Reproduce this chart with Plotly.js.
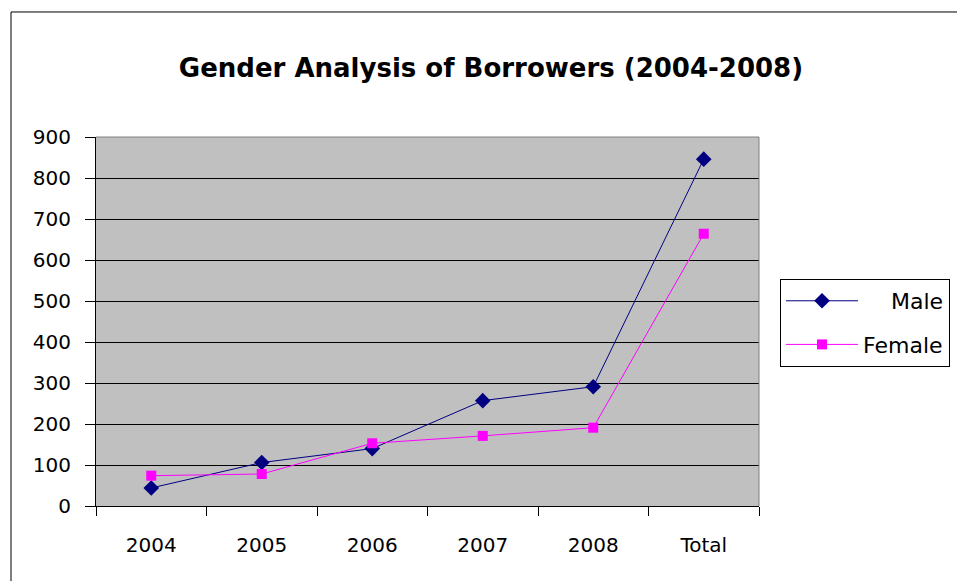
<!DOCTYPE html>
<html>
<head>
<meta charset="utf-8">
<script src="https://cdn.plot.ly/plotly-3.0.1.min.js"></script>
<style>html,body{margin:0;padding:0;background:#fff;} #chart{width:957px;height:581px;}</style>
</head>
<body>
<div id="chart"></div>
<script>
const categories = ["2004", "2005", "2006", "2007", "2008", "Total"];
const maleValues = [44, 106, 140, 257, 291, 846];
const femaleValues = [74, 78, 153, 171, 191, 664];
const yTickValues = [0, 100, 200, 300, 400, 500, 600, 700, 800, 900];
const seriesNames = ["Male", "Female"];

const FONT = "DejaVu Sans, Liberation Sans, Arial, sans-serif";
const NB = "\u00a0";

const traces = [
  {
    x: categories, y: maleValues, name: NB.repeat(4) + seriesNames[0], type: "scatter", mode: "lines+markers",
    legendgroup: "a",
    line: {color: "#000080", width: 1},
    marker: {symbol: "diamond", size: 12, color: "#000080"}
  },
  {
    x: categories, y: femaleValues, name: seriesNames[1], type: "scatter", mode: "lines+markers",
    legendgroup: "b",
    line: {color: "#FF00FF", width: 1},
    marker: {symbol: "square", size: 10, color: "#FF00FF"}
  }
];

const layout = {
  width: 957, height: 581,
  margin: {l: 96, r: 198, t: 137, b: 75, autoexpand: false},
  paper_bgcolor: "#ffffff",
  plot_bgcolor: "#C0C0C0",
  font: {family: FONT, color: "#000000", size: 20},
  title: {
    text: "<b>Gender Analysis of Borrowers (2004-2008)</b>",
    font: {family: FONT, size: 26, color: "#000"},
    x: 0.513, xref: "container", xanchor: "center",
    y: 0.883, yref: "container", yanchor: "middle"
  },
  xaxis: {
    type: "category",
    range: [-0.5, 5.5],
    autorange: false,
    tickson: "boundaries",
    ticks: "outside", ticklen: 9, tickcolor: "#000", tickwidth: 1,
    showline: true, linecolor: "#000", linewidth: 1,
    showgrid: false, zeroline: false,
    tickfont: {family: FONT, size: 20},
    ticklabelstandoff: 21,
    fixedrange: true
  },
  yaxis: {
    range: [0, 900],
    autorange: false,
    tickvals: yTickValues,
    ticktext: yTickValues.map(String),
    ticks: "outside", ticklen: 10, tickcolor: "#000", tickwidth: 1,
    showline: true, linecolor: "#000", linewidth: 1,
    showgrid: true, gridcolor: "#000", gridwidth: 1,
    zeroline: false,
    tickfont: {family: FONT, size: 20},
    ticklabelstandoff: 10,
    fixedrange: true
  },
  showlegend: true,
  legend: {
    x: 1.0317, xref: "paper", xanchor: "left",
    y: 0.6152, yref: "paper", yanchor: "top",
    bgcolor: "#ffffff", bordercolor: "#000", borderwidth: 1,
    font: {family: FONT, size: 22, color: "#000"},
    traceorder: "grouped", tracegroupgap: 12,
    itemwidth: 72
  },
  shapes: [
    {type: "rect", xref: "paper", yref: "paper", x0: -0.1282, x1: 1.6, y0: -0.5, y1: 1.3388,
     line: {color: "#000", width: 1}, fillcolor: "rgba(0,0,0,0)", layer: "below"},
    {type: "line", xref: "paper", yref: "paper", x0: 0, x1: 1, y0: 1, y1: 1,
     line: {color: "#808080", width: 1}},
    {type: "line", xref: "paper", yref: "paper", x0: 1, x1: 1, y0: 0, y1: 1,
     line: {color: "#808080", width: 1}}
  ]
};

Plotly.newPlot("chart", traces, layout, {displayModeBar: false, staticPlot: true});
</script>
</body>
</html>
